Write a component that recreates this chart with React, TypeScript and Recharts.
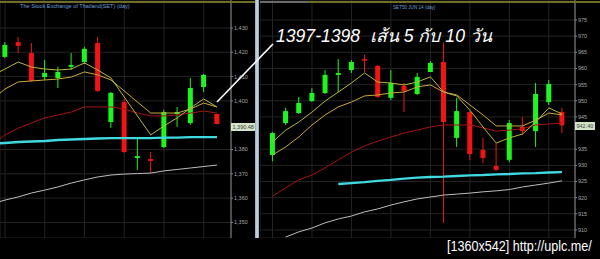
import React from 'react';
import { ComposedChart, Bar, Line, XAxis, YAxis, CartesianGrid } from 'recharts';

// ---------- texts ----------
const LEFT_TITLE = 'The Stock Exchange of Thailand(SET) (day)';
const RIGHT_TITLE = 'SET50 JUN 14 (day)';
const ANNOTATION = '1397-1398  เส้น 5 กับ 10 วัน';
const WATERMARK = '[1360x542] http://uplc.me/';
const SET_LAST_TAG = '1,390.48';
const S50_LAST_TAG = '942.40';

// ---------- SET index panel (left) ----------
const setIndex = [-1, 0, 1, 2, 3, 4, 5, 6, 7, 8, 9, 10, 11, 12, 13, 14, 15, 16];
const setOpen = [null, 1418.1, 1424.2, 1419.7, 1409.8, 1409.4, 1414.0, 1416.0, 1423.8, 1391.3, 1399.5, 1376.5, 1376.1, 1381.0, 1394.6, 1390.9, 1405.7, 1394.6];
const setHigh = [null, 1424.2, 1426.3, 1423.8, 1416.8, 1414.0, 1419.7, 1422.2, 1426.3, 1403.7, 1400.8, 1384.7, 1379.0, 1396.3, 1397.5, 1409.4, 1411.1, 1394.8];
const setLow = [null, 1417.7, 1419.7, 1407.8, 1408.6, 1405.3, 1412.7, 1415.2, 1403.7, 1388.9, 1378.6, 1371.6, 1370.3, 1380.6, 1389.3, 1390.1, 1403.7, 1390.3];
const setClose = [null, 1423.0, 1422.6, 1408.2, 1411.5, 1411.9, 1414.8, 1421.4, 1404.1, 1403.3, 1379.0, 1377.3, 1375.3, 1395.4, 1395.4, 1405.3, 1410.7, 1390.5];
const setMa5 = [1410.3, 1413.1, 1416.0, 1413.9, 1413.1, 1412.7, 1413.1, 1415.6, 1412.7, 1409.4, 1401.6, 1393.8, 1386.0, 1389.7, 1393.0, 1397.1, 1400.8, 1397.5];
const setMa10 = [1400.4, 1404.9, 1407.8, 1408.2, 1408.6, 1409.0, 1409.8, 1411.9, 1410.7, 1408.6, 1404.1, 1399.5, 1395.0, 1395.0, 1395.0, 1396.7, 1399.1, 1397.5];
const setMa25 = [1381.9, 1386.0, 1388.8, 1390.9, 1393.0, 1394.2, 1395.4, 1397.5, 1397.5, 1397.5, 1396.7, 1395.0, 1393.8, 1393.8, 1394.2, 1395.0, 1395.8, 1395.0];
const setMa75 = [1382.3, 1382.7, 1383.1, 1383.3, 1383.5, 1383.9, 1384.1, 1384.3, 1384.5, 1384.7, 1384.7, 1384.7, 1384.7, 1384.9, 1384.9, 1385.1, 1385.1, 1385.1];
const setMa200 = [1357.6, 1359.2, 1360.5, 1362.1, 1363.3, 1364.6, 1366.2, 1367.5, 1368.7, 1369.5, 1369.9, 1370.1, 1370.3, 1371.2, 1371.8, 1372.4, 1373.0, 1373.6];
// 1,390 is hidden behind the last-price tag in the reference
const setTicks = [1350, 1360, 1370, 1380, 1400, 1410, 1420, 1430];

// ---------- SET50 futures panel (right) ----------
const s50Index = [0, 1, 2, 3, 4, 5, 6, 7, 8, 9, 10, 11, 12, 13, 14, 15, 16, 17, 18, 19, 20, 21, 22];
const s50Open = [933.2, 943.1, 946.2, 949.9, 952.4, 958.0, 959.5, 962.9, 960.8, 950.9, 954.6, 952.1, 958.9, 962.0, 938.5, 946.5, 934.8, 929.8, 931.7, 941.9, 940.6, 949.6, 946.5];
const s50High = [940.3, 947.8, 951.2, 953.9, 959.5, 962.9, 962.6, 964.2, 961.1, 959.5, 955.5, 958.6, 962.3, 967.9, 950.9, 946.8, 938.5, 936.9, 944.0, 945.0, 955.5, 956.4, 947.8];
const s50Low = [931.3, 942.5, 945.9, 949.6, 952.1, 952.7, 958.6, 958.9, 950.9, 950.2, 946.5, 951.8, 958.9, 912.2, 935.7, 931.7, 930.7, 928.3, 931.0, 939.4, 935.7, 948.7, 940.0];
const s50Close = [940.0, 946.8, 949.3, 952.4, 958.0, 958.6, 962.0, 962.5, 951.2, 955.5, 953.0, 957.4, 961.7, 943.4, 946.8, 933.5, 932.3, 928.6, 943.1, 940.6, 952.1, 955.2, 942.4];
const s50Ma5 = [937.2, 940.9, 943.4, 946.5, 949.9, 952.7, 955.5, 958.6, 955.8, 955.5, 954.9, 955.8, 957.4, 952.7, 951.5, 947.1, 941.9, 936.9, 938.5, 939.7, 943.4, 947.8, 945.9];
const s50Ma10 = [933.2, 935.7, 938.8, 942.5, 945.6, 948.1, 949.6, 951.5, 951.8, 952.4, 952.7, 954.3, 954.9, 952.7, 951.8, 948.7, 945.6, 942.2, 942.2, 942.2, 944.0, 946.2, 945.6];
const s50Ma25 = [920.5, 923.0, 925.5, 927.0, 929.2, 931.7, 934.1, 936.0, 937.5, 938.8, 940.0, 940.9, 941.9, 942.5, 942.5, 942.5, 941.6, 940.6, 940.9, 941.3, 942.5, 942.8, 943.1];
const s50Ma75 = [null, null, null, null, null, 924.2, 924.5, 924.8, 925.2, 925.5, 925.9, 926.2, 926.4, 926.5, 926.7, 926.9, 927.0, 927.2, 927.3, 927.5, 927.6, 927.8, 927.9];
const s50Ma200 = [null, 907.8, 909.4, 910.6, 912.2, 913.4, 914.3, 915.6, 916.5, 917.7, 918.7, 919.6, 920.2, 920.8, 921.1, 921.4, 921.8, 922.1, 922.5, 923.3, 923.9, 924.5, 925.2];
const s50Ticks = [910, 915, 920, 925, 930, 935, 945, 950, 955, 960, 965, 970, 975];

const GREEN = '#1ef51e';
const RED = '#f01414';
const MA5_C = '#b9b83a';
const MA10_C = '#c9a93c';
const MA25_C = '#a81212';
const MA75_C = '#3fd9e2';
const MA200_C = '#bdbdbd';

function buildRows(idx: number[], o: any[], h: any[], l: any[], c: any[], m5: any[], m10: any[], m25: any[], m75: any[], m200: any[]) {
  return idx.map((i, k) => ({
    i,
    open: o[k],
    high: h[k],
    low: l[k],
    close: c[k],
    range: o[k] == null ? null : [l[k], h[k]],
    ma5: m5[k],
    ma10: m10[k],
    ma25: m25[k],
    ma75: m75[k],
    ma200: m200[k],
  }));
}

const setRows = buildRows(setIndex, setOpen, setHigh, setLow, setClose, setMa5, setMa10, setMa25, setMa75, setMa200);
const s50Rows = buildRows(s50Index, s50Open, s50High, s50Low, s50Close, s50Ma5, s50Ma10, s50Ma25, s50Ma75, s50Ma200);

const Candle = (props: any) => {
  const { x, y, width, height, payload } = props;
  if (!payload || payload.high == null || x == null || isNaN(y)) return null;
  const top = Math.min(y, y + height);
  const bot = Math.max(y, y + height);
  const span = payload.high - payload.low || 1;
  const toY = (v: number) => top + ((payload.high - v) / span) * (bot - top);
  const up = payload.close >= payload.open;
  const color = up ? GREEN : RED;
  const yo = toY(payload.open);
  const yc = toY(payload.close);
  const bTop = Math.min(yo, yc);
  const bH = Math.max(1.6, Math.abs(yo - yc));
  const cx = x + width / 2;
  return (
    <g>
      <line x1={cx} x2={cx} y1={top} y2={bot} stroke={color} strokeWidth={1} />
      <rect x={x} y={bTop} width={width} height={bH} fill={color} />
    </g>
  );
};

const fmtComma = (v: number) => v.toLocaleString('en-US');
const fmtPlain = (v: number) => String(v);

function Panel(props: any) {
  const { rows, width, height, xDomain, yDomain, ticks, fmt, axisWidth, gridTicks } = props;
  const lineProps = { type: 'linear' as const, dot: false, activeDot: false, isAnimationActive: false };
  return (
    <ComposedChart width={width} height={height} data={rows} margin={{ top: 0, right: 0, bottom: 0, left: 0 }}>
      <CartesianGrid stroke="#242424" strokeWidth={1} />
      <XAxis type="number" dataKey="i" domain={xDomain} ticks={gridTicks} hide allowDataOverflow />
      <YAxis
        orientation="right"
        width={axisWidth}
        domain={yDomain}
        ticks={ticks}
        allowDataOverflow
        interval={0}
        tickFormatter={fmt}
        tickSize={2}
        tickMargin={1}
        stroke="#8a8a8a"
        tick={{ fill: '#a6a6a6', fontSize: 5.5, fontFamily: 'Liberation Sans, Arial, sans-serif' }}
        axisLine={{ stroke: '#8a8a8a' }}
        tickLine={{ stroke: '#8a8a8a' }}
      />
      <Line {...lineProps} dataKey="ma200" stroke={MA200_C} strokeWidth={1} />
      <Line {...lineProps} dataKey="ma75" stroke={MA75_C} strokeWidth={2.4} />
      <Line {...lineProps} dataKey="ma25" stroke={MA25_C} strokeWidth={1} />
      <Line {...lineProps} dataKey="ma10" stroke={MA10_C} strokeWidth={1} />
      <Line {...lineProps} dataKey="ma5" stroke={MA5_C} strokeWidth={1} />
      <Bar dataKey="range" barSize={5} shape={<Candle />} activeBar={false} isAnimationActive={false} />
    </ComposedChart>
  );
}

export default function App() {
  return (
    <div style={{ position: 'fixed', left: 0, top: 0, width: 600, height: 259, background: '#000', overflow: 'hidden', pointerEvents: 'none' }}>
      <div style={{ position: 'absolute', left: 0, top: 0 }}>
        <Panel
          rows={setRows}
          width={255}
          height={238}
          xDomain={[-0.377, 17.06]}
          yDomain={[1343.6, 1441.5]}
          ticks={setTicks}
          fmt={fmtComma}
          axisWidth={24}
          gridTicks={[0, 3, 6, 9, 12, 15]}
        />
      </div>
      <div style={{ position: 'absolute', left: 260, top: 0 }}>
        <Panel
          rows={s50Rows}
          width={340}
          height={238}
          xDomain={[-0.95, 22.99]}
          yDomain={[907.5, 981.2]}
          ticks={s50Ticks}
          fmt={fmtPlain}
          axisWidth={25}
          gridTicks={[0, 3, 6, 9, 12, 15, 18, 21]}
        />
      </div>
      {/* separator bar */}
      <div style={{ position: 'absolute', left: 255, top: 0, width: 4, height: 238, background: 'linear-gradient(90deg,#8ea4ba,#cddbe8,#8ea4ba)' }} />
      {/* top border lines */}
      <div style={{ position: 'absolute', left: 0, top: 1, width: 255, height: 2, background: '#6f6e24' }} />
      <div style={{ position: 'absolute', left: 260, top: 1, width: 48, height: 2, background: '#6a6a6a' }} />
      <div style={{ position: 'absolute', left: 308, top: 1, width: 292, height: 2, background: '#6f6e24' }} />
      <svg width={600} height={259} style={{ position: 'absolute', left: 0, top: 0, pointerEvents: 'none' }}>
        <text x={20} y={7.5} fontSize={5.6} fill="#6a9ed6" fontFamily="Liberation Sans, Arial, sans-serif">{LEFT_TITLE}</text>
        <text x={393} y={8.5} fontSize={4.6} fill="#6a9ed6" fontFamily="Liberation Sans, Arial, sans-serif">{RIGHT_TITLE}</text>
        <rect x={231} y={123} width={24} height={8} fill="#d4e4c8" />
        <text x={232.5} y={129.3} fontSize={5.5} fill="#3a3a3a" fontFamily="Liberation Sans, Arial, sans-serif">{SET_LAST_TAG}</text>
        <rect x={575} y={122} width={20} height={8} fill="#d4e4c8" />
        <text x={576.5} y={128.3} fontSize={5.5} fill="#3a3a3a" fontFamily="Liberation Sans, Arial, sans-serif">{S50_LAST_TAG}</text>
        <line x1={217} y1={102} x2={273} y2={44} stroke="#ffffff" strokeWidth={1.6} />
        <text x={276} y={42} fontSize={17.6} fontStyle="italic" fill="#ffffff" fontFamily="Liberation Sans, Arial, sans-serif" style={{ whiteSpace: 'pre' }}>{ANNOTATION}</text>
        <g transform="translate(447,251) scale(1,1.15)">
          <text x={0} y={0} fontSize={12.6} fill="#ffffff" fontFamily="Liberation Sans, Arial, sans-serif">{WATERMARK}</text>
        </g>
      </svg>
    </div>
  );
}
